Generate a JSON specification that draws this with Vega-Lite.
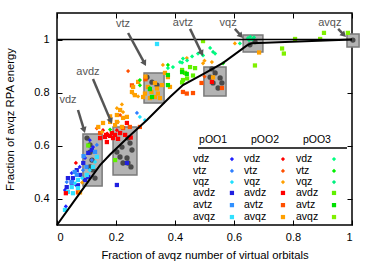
{
"$schema": "https://vega.github.io/schema/vega-lite/v6.json",
"width": 295, "height": 212,
"autosize": "none",
"padding": {"left": 57, "top": 13, "right": 22, "bottom": 37},
"config": {"font": "Liberation Sans", "view": {"stroke": "#000", "strokeWidth": 1.5}},
"encoding": {
 "x": {"field": "x", "type": "quantitative", "scale": {"domain": [0, 1], "nice": false}, "axis": null},
 "y": {"field": "y", "type": "quantitative", "scale": {"domain": [0.3, 1.1], "nice": false, "zero": false}, "axis": null}
},
"resolve": {"axis": {"x": "independent", "y": "independent"}},
"layer": [
 {
  "data": {"values": [
   {"x": 0.088, "x2": 0.153, "y": 0.447, "y2": 0.643},
   {"x": 0.19, "x2": 0.271, "y": 0.489, "y2": 0.670},
   {"x": 0.295, "x2": 0.363, "y": 0.760, "y2": 0.874},
   {"x": 0.498, "x2": 0.573, "y": 0.787, "y2": 0.896},
   {"x": 0.631, "x2": 0.698, "y": 0.953, "y2": 1.017},
   {"x": 0.983, "x2": 1.024, "y": 0.972, "y2": 1.021}
  ]},
  "mark": {"type": "rect", "fill": "#b3b3b3", "stroke": "#7a7a7a", "strokeWidth": 1.5},
  "encoding": {
   "x": {"field": "x", "type": "quantitative", "scale": {"domain": [0, 1], "nice": false},
    "axis": {"orient": "bottom", "values": [0, 0.2, 0.4, 0.6, 0.8, 1], "format": "~g", "domain": false, "grid": false,
     "tickSize": -5, "tickColor": "#000", "tickWidth": 1, "labelPadding": 11, "labelFontSize": 11, "labelColor": "#000",
     "title": "Fraction of avqz number of virtual orbitals", "titleFontSize": 11.3, "titleFontWeight": "normal", "titleColor": "#000",
     "titleY": 24, "titleBaseline": "top"}},
   "x2": {"field": "x2"},
   "y": {"field": "y", "type": "quantitative", "scale": {"domain": [0.3, 1.1], "nice": false, "zero": false},
    "axis": {"orient": "left", "values": [0.4, 0.6, 0.8, 1], "format": "~g", "domain": false, "grid": false,
     "tickSize": -5, "tickColor": "#000", "tickWidth": 1, "labelPadding": 13, "labelFontSize": 11, "labelColor": "#000",
     "title": "Fraction of avqz RPA energy", "titleFontSize": 11.3, "titleFontWeight": "normal", "titleColor": "#000",
     "titleX": -47, "titleY": 106, "titleAngle": -90, "titleAlign": "center", "titleBaseline": "middle"}},
   "y2": {"field": "y2"}
  }
 },
 {
  "data": {"values": [
   {"x": 0.1017, "y": 0.628}, {"x": 0.1119, "y": 0.602}, {"x": 0.1119, "y": 0.575}, {"x": 0.1186, "y": 0.545},
   {"x": 0.1119, "y": 0.519}, {"x": 0.122, "y": 0.508}, {"x": 0.1288, "y": 0.477},
   {"x": 0.203, "y": 0.5755}, {"x": 0.2136, "y": 0.5566}, {"x": 0.2373, "y": 0.5528}, {"x": 0.2237, "y": 0.534},
   {"x": 0.2407, "y": 0.534}, {"x": 0.2542, "y": 0.583}, {"x": 0.2475, "y": 0.609}, {"x": 0.2407, "y": 0.628},
   {"x": 0.2508, "y": 0.519}, {"x": 0.2203, "y": 0.594},
   {"x": 0.305, "y": 0.858}, {"x": 0.322, "y": 0.839}, {"x": 0.339, "y": 0.828},
   {"x": 0.525, "y": 0.889}, {"x": 0.536, "y": 0.874}, {"x": 0.553, "y": 0.855}, {"x": 0.559, "y": 0.836},
   {"x": 0.546, "y": 0.817}, {"x": 0.529, "y": 0.836}, {"x": 0.519, "y": 0.858},
   {"x": 0.6712, "y": 0.992}, {"x": 0.654, "y": 0.98}, {"x": 1.003, "y": 0.998}
  ]},
  "mark": {"type": "point", "shape": "circle", "filled": true, "color": "#4a4a4a", "size": 28, "opacity": 1}
 },
 {
  "data": {"values": [
   {"s": "1vdz", "x": 0.027, "y": 0.432}, {"s": "1vdz", "x": 0.095, "y": 0.553}, {"s": "1vdz", "x": 0.111, "y": 0.62},
   {"s": "1vdz", "x": 0.05, "y": 0.496}, {"s": "1vdz", "x": 0.077, "y": 0.519}, {"s": "1vdz", "x": 0.122, "y": 0.594},
   {"s": "1vdz", "x": 0.03, "y": 0.37}, {"s": "1vdz", "x": 0.065, "y": 0.45},
   {"s": "1avdz", "x": 0.037, "y": 0.477}, {"s": "1avdz", "x": 0.067, "y": 0.507}, {"s": "1avdz", "x": 0.089, "y": 0.534},
   {"s": "1avdz", "x": 0.106, "y": 0.572}, {"s": "1avdz", "x": 0.118, "y": 0.583}, {"s": "1avdz", "x": 0.054, "y": 0.477},
   {"s": "1avdz", "x": 0.078, "y": 0.489}, {"s": "1avdz", "x": 0.071, "y": 0.45}, {"s": "1avdz", "x": 0.095, "y": 0.47},
   {"s": "1avdz", "x": 0.106, "y": 0.481}, {"s": "1avdz", "x": 0.033, "y": 0.443}, {"s": "1avdz", "x": 0.203, "y": 0.451},
   {"s": "1avdz", "x": 0.237, "y": 0.534}, {"s": "1avdz", "x": 0.05, "y": 0.46},
   {"s": "1vtz", "x": 0.271, "y": 0.723}, {"s": "1vtz", "x": 0.033, "y": 0.462}, {"s": "1vtz", "x": 0.088, "y": 0.507},
   {"s": "1vtz", "x": 0.118, "y": 0.545}, {"s": "1vtz", "x": 0.135, "y": 0.602},
   {"s": "1avtz", "x": 0.05, "y": 0.462}, {"s": "1avtz", "x": 0.067, "y": 0.489}, {"s": "1avtz", "x": 0.1, "y": 0.519},
   {"s": "1avtz", "x": 0.129, "y": 0.576}, {"s": "1avtz", "x": 0.06, "y": 0.5}, {"s": "1avtz", "x": 0.09, "y": 0.56},
   {"s": "1vqz", "x": 0.281, "y": 0.708}, {"s": "1vqz", "x": 0.298, "y": 0.696}, {"s": "1vqz", "x": 0.061, "y": 0.458},
   {"s": "1vqz", "x": 0.085, "y": 0.477}, {"s": "1vqz", "x": 0.111, "y": 0.507}, {"s": "1vqz", "x": 0.129, "y": 0.538},
   {"s": "1avqz", "x": 0.027, "y": 0.357}, {"s": "1avqz", "x": 0.05, "y": 0.443}, {"s": "1avqz", "x": 0.071, "y": 0.47},
   {"s": "1avqz", "x": 0.101, "y": 0.489}, {"s": "1avqz", "x": 0.122, "y": 0.519}, {"s": "1avqz", "x": 0.135, "y": 0.557},
   {"s": "1avqz", "x": 0.037, "y": 0.425}, {"s": "1avqz", "x": 0.054, "y": 0.42}, {"s": "1avqz", "x": 0.071, "y": 0.439},
   {"s": "1avqz", "x": 0.339, "y": 0.983},
   {"s": "2vdz", "x": 0.064, "y": 0.534}, {"s": "2vdz", "x": 0.156, "y": 0.658}, {"s": "2vdz", "x": 0.203, "y": 0.658},
   {"s": "2vdz", "x": 0.22, "y": 0.67}, {"s": "2vdz", "x": 0.17, "y": 0.645},
   {"s": "2avdz", "x": 0.03, "y": 0.42}, {"s": "2avdz", "x": 0.146, "y": 0.628}, {"s": "2avdz", "x": 0.163, "y": 0.632},
   {"s": "2avdz", "x": 0.18, "y": 0.636}, {"s": "2avdz", "x": 0.197, "y": 0.64}, {"s": "2avdz", "x": 0.214, "y": 0.647},
   {"s": "2avdz", "x": 0.231, "y": 0.64}, {"s": "2avdz", "x": 0.169, "y": 0.613}, {"s": "2avdz", "x": 0.19, "y": 0.628},
   {"s": "2avdz", "x": 0.207, "y": 0.625}, {"s": "2avdz", "x": 0.186, "y": 0.647}, {"s": "2avdz", "x": 0.166, "y": 0.64},
   {"s": "2avdz", "x": 0.237, "y": 0.685}, {"s": "2avdz", "x": 0.525, "y": 0.84}, {"s": "2avdz", "x": 0.25, "y": 0.63},
   {"s": "2vtz", "x": 0.241, "y": 0.881}, {"s": "2vtz", "x": 0.214, "y": 0.715}, {"s": "2vtz", "x": 0.135, "y": 0.665},
   {"s": "2vtz", "x": 0.5, "y": 0.86},
   {"s": "2avtz", "x": 0.146, "y": 0.647}, {"s": "2avtz", "x": 0.224, "y": 0.666}, {"s": "2avtz", "x": 0.247, "y": 0.67},
   {"s": "2avtz", "x": 0.281, "y": 0.67}, {"s": "2avtz", "x": 0.254, "y": 0.827}, {"s": "2avtz", "x": 0.427, "y": 0.802},
   {"s": "2avtz", "x": 0.461, "y": 0.798}, {"s": "2avtz", "x": 0.44, "y": 0.796}, {"s": "2avtz", "x": 0.49, "y": 0.836},
   {"s": "2avtz", "x": 0.071, "y": 0.423}, {"s": "2avtz", "x": 0.559, "y": 0.817}, {"s": "2avtz", "x": 0.3, "y": 0.85},
   {"s": "2vqz", "x": 0.359, "y": 0.904}, {"s": "2vqz", "x": 0.275, "y": 0.785}, {"s": "2vqz", "x": 0.258, "y": 0.796},
   {"s": "2vqz", "x": 0.224, "y": 0.726}, {"s": "2vqz", "x": 0.203, "y": 0.741}, {"s": "2vqz", "x": 0.22, "y": 0.755},
   {"s": "2vqz", "x": 0.153, "y": 0.651}, {"s": "2vqz", "x": 0.207, "y": 0.689}, {"s": "2vqz", "x": 0.525, "y": 0.915},
   {"s": "2vqz", "x": 0.495, "y": 0.91}, {"s": "2vqz", "x": 0.603, "y": 0.985}, {"s": "2vqz", "x": 0.085, "y": 0.46},
   {"s": "2vqz", "x": 0.44, "y": 0.93}, {"s": "2vqz", "x": 0.5, "y": 0.92},
   {"s": "2avqz", "x": 0.308, "y": 0.821}, {"s": "2avqz", "x": 0.32, "y": 0.802}, {"s": "2avqz", "x": 0.332, "y": 0.783},
   {"s": "2avqz", "x": 0.339, "y": 0.815}, {"s": "2avqz", "x": 0.342, "y": 0.796}, {"s": "2avqz", "x": 0.349, "y": 0.779},
   {"s": "2avqz", "x": 0.315, "y": 0.779}, {"s": "2avqz", "x": 0.332, "y": 0.836}, {"s": "2avqz", "x": 0.356, "y": 0.828},
   {"s": "2avqz", "x": 0.298, "y": 0.796}, {"s": "2avqz", "x": 0.203, "y": 0.715}, {"s": "2avqz", "x": 0.224, "y": 0.704},
   {"s": "2avqz", "x": 0.197, "y": 0.677}, {"s": "2avqz", "x": 0.22, "y": 0.67}, {"s": "2avqz", "x": 0.237, "y": 0.708},
   {"s": "2avqz", "x": 0.214, "y": 0.734}, {"s": "2avqz", "x": 0.156, "y": 0.685}, {"s": "2avqz", "x": 0.18, "y": 0.689},
   {"s": "2avqz", "x": 0.203, "y": 0.689}, {"s": "2avqz", "x": 0.078, "y": 0.423}, {"s": "2avqz", "x": 0.376, "y": 0.858},
   {"s": "2avqz", "x": 0.383, "y": 0.821}, {"s": "2avqz", "x": 0.529, "y": 0.857}, {"s": "2avqz", "x": 0.685, "y": 0.951},
   {"s": "2avqz", "x": 0.254, "y": 0.802}, {"s": "2avqz", "x": 0.264, "y": 0.79}, {"s": "2avqz", "x": 0.258, "y": 0.821},
   {"s": "2avqz", "x": 0.275, "y": 0.84}, {"s": "2avqz", "x": 0.292, "y": 0.783}, {"s": "2avqz", "x": 0.366, "y": 0.874},
   {"s": "2avqz", "x": 0.18, "y": 0.71}, {"s": "2avqz", "x": 0.14, "y": 0.67}, {"s": "2avqz", "x": 0.3, "y": 0.86},
   {"s": "3vdz", "x": 0.519, "y": 0.968}, {"s": "3vdz", "x": 0.536, "y": 0.947}, {"s": "3vdz", "x": 0.495, "y": 0.94},
   {"s": "3vdz", "x": 0.478, "y": 0.947}, {"s": "3vdz", "x": 0.458, "y": 0.936}, {"s": "3vdz", "x": 0.441, "y": 0.921},
   {"s": "3vdz", "x": 0.424, "y": 0.913}, {"s": "3vdz", "x": 0.62, "y": 0.985}, {"s": "3vdz", "x": 0.417, "y": 0.915},
   {"s": "3vdz", "x": 0.427, "y": 0.928}, {"s": "3vdz", "x": 0.393, "y": 0.896}, {"s": "3vdz", "x": 0.376, "y": 0.892},
   {"s": "3vqz", "x": 0.647, "y": 1.005}, {"s": "3vqz", "x": 0.655, "y": 1.01}, {"s": "3vqz", "x": 0.662, "y": 1.0},
   {"s": "3vqz", "x": 0.668, "y": 1.008}, {"s": "3vqz", "x": 0.651, "y": 0.998}, {"s": "3vqz", "x": 0.529, "y": 0.953},
   {"s": "3vtz", "x": 0.281, "y": 0.847}, {"s": "3vtz", "x": 0.281, "y": 0.827}, {"s": "3vtz", "x": 0.376, "y": 0.904},
   {"s": "3vtz", "x": 0.18, "y": 0.66}, {"s": "3vtz", "x": 0.315, "y": 0.817}, {"s": "3vtz", "x": 0.563, "y": 0.91},
   {"s": "3avdz", "x": 0.424, "y": 0.885}, {"s": "3avdz", "x": 0.434, "y": 0.874}, {"s": "3avdz", "x": 0.427, "y": 0.847},
   {"s": "3avdz", "x": 0.451, "y": 0.896}, {"s": "3avdz", "x": 0.468, "y": 0.892}, {"s": "3avdz", "x": 0.461, "y": 0.864},
   {"s": "3avdz", "x": 0.441, "y": 0.853}, {"s": "3avdz", "x": 0.424, "y": 0.838}, {"s": "3avdz", "x": 0.106, "y": 0.6},
   {"s": "3avdz", "x": 0.197, "y": 0.545},
   {"s": "3avtz", "x": 0.424, "y": 0.877}, {"s": "3avtz", "x": 0.376, "y": 0.866}, {"s": "3avtz", "x": 0.376, "y": 0.828},
   {"s": "3avtz", "x": 0.315, "y": 0.813}, {"s": "3avtz", "x": 0.322, "y": 0.783}, {"s": "3avtz", "x": 0.44, "y": 0.87},
   {"s": "3avqz", "x": 0.763, "y": 0.966}, {"s": "3avqz", "x": 0.769, "y": 0.947}, {"s": "3avqz", "x": 0.671, "y": 0.902},
   {"s": "3avqz", "x": 0.807, "y": 1.002}, {"s": "3avqz", "x": 0.892, "y": 1.002}, {"s": "3avqz", "x": 0.905, "y": 1.025},
   {"s": "3avqz", "x": 0.986, "y": 1.025}, {"s": "3avqz", "x": 0.495, "y": 0.994}
  ]},
  "mark": {"type": "point", "filled": true, "size": 18, "opacity": 1},
  "encoding": {
   "color": {"field": "s", "type": "nominal", "legend": null,
    "scale": {"domain": ["1vdz","1vtz","1vqz","1avdz","1avtz","1avqz","2vdz","2vtz","2vqz","2avdz","2avtz","2avqz","3vdz","3vtz","3vqz","3avdz","3avtz","3avqz"],
     "range": ["#2020ff","#3080ff","#20e0ff","#2020e0","#3090ff","#30e0ff","#ff0000","#ff5000","#ffa000","#ff0000","#ff5000","#ffa000","#00ff80","#00f000","#00f080","#60f000","#00e000","#80f000"]}},
   "shape": {"field": "s", "type": "nominal", "legend": null,
    "scale": {"domain": ["1vdz","1vtz","1vqz","1avdz","1avtz","1avqz","2vdz","2vtz","2vqz","2avdz","2avtz","2avqz","3vdz","3vtz","3vqz","3avdz","3avtz","3avqz"],
     "range": ["diamond","diamond","diamond","square","square","square","diamond","diamond","diamond","square","square","square","diamond","diamond","diamond","square","square","square"]}}
  }
 },
 {
  "data": {"values": [
   {"x": 0, "y": 0.3}, {"x": 0.05, "y": 0.378}, {"x": 0.1, "y": 0.455}, {"x": 0.146, "y": 0.526}, {"x": 0.18, "y": 0.566},
   {"x": 0.24, "y": 0.63}, {"x": 0.305, "y": 0.696}, {"x": 0.383, "y": 0.783}, {"x": 0.427, "y": 0.828}, {"x": 0.5, "y": 0.872},
   {"x": 0.563, "y": 0.912}, {"x": 0.644, "y": 0.978}, {"x": 0.66, "y": 0.986}, {"x": 1.0, "y": 1.0}
  ]},
  "mark": {"type": "line", "color": "#000", "strokeWidth": 2},
  "encoding": {
   "x": {"field": "x", "type": "quantitative",
    "axis": {"orient": "top", "values": [0, 0.2, 0.4, 0.6, 0.8, 1], "labels": false, "domain": false, "grid": false,
     "tickSize": -5, "tickColor": "#000", "tickWidth": 1, "title": null}},
   "y": {"field": "y", "type": "quantitative",
    "axis": {"orient": "right", "values": [0.4, 0.6, 0.8, 1], "labels": false, "domain": false, "grid": false,
     "tickSize": -5, "tickColor": "#000", "tickWidth": 1, "title": null}}
  }
 },
 {
  "data": {"values": [{"x": 0, "x2": 1, "y": 1}]},
  "mark": {"type": "rule", "color": "#000", "strokeWidth": 1.5},
  "encoding": {"x2": {"field": "x2"}}
 },
 {
  "data": {"values": [
   {"t": "vdz", "tx": 0.0373, "ty": 0.772, "x": 0.0712, "y": 0.734, "x2": 0.0919, "y2": 0.658, "a": 163},
   {"t": "avdz", "tx": 0.105, "ty": 0.877, "x": 0.122, "y": 0.851, "x2": 0.1824, "y2": 0.692, "a": 157},
   {"t": "vtz", "tx": 0.2237, "ty": 1.058, "x": 0.241, "y": 1.0245, "x2": 0.297, "y2": 0.910, "a": 151},
   {"t": "avtz", "tx": 0.427, "ty": 1.062, "x": 0.451, "y": 1.04, "x2": 0.4905, "y2": 0.948, "a": 154},
   {"t": "vqz", "tx": 0.58, "ty": 1.062, "x": 0.603, "y": 1.04, "x2": 0.6237, "y2": 1.014, "a": 138},
   {"t": "avqz", "tx": 0.925, "ty": 1.062, "x": 0.953, "y": 1.04, "x2": 0.9725, "y2": 1.0174, "a": 135}
  ]},
  "layer": [
   {"mark": {"type": "rule", "color": "#555", "strokeWidth": 2.5},
    "encoding": {"x2": {"field": "x2"}, "y2": {"field": "y2"}}},
   {"mark": {"type": "point", "shape": "triangle-up", "filled": true, "color": "#555", "size": 45, "opacity": 1},
    "encoding": {"x": {"field": "x2", "type": "quantitative", "axis": null}, "y": {"field": "y2", "type": "quantitative", "axis": null},
     "angle": {"field": "a", "type": "quantitative", "scale": null}}},
   {"mark": {"type": "text", "color": "#555", "fontSize": 11, "baseline": "middle", "align": "center"},
    "encoding": {"x": {"field": "tx", "type": "quantitative", "axis": null}, "y": {"field": "ty", "type": "quantitative", "axis": null},
     "text": {"field": "t"}}}
  ]
 },
 {
  "data": {"values": [
   {"t": "pOO1", "x": 0.529, "y": 0.621}, {"t": "pOO2", "x": 0.705, "y": 0.621}, {"t": "pOO3", "x": 0.881, "y": 0.621}
  ]},
  "mark": {"type": "text", "color": "#000", "fontSize": 10.5, "baseline": "middle", "align": "center"},
  "encoding": {"text": {"field": "t"}}
 },
 {
  "data": {"values": [{"x": 0.478, "x2": 0.983, "y": 0.591}]},
  "mark": {"type": "rule", "color": "#000", "strokeWidth": 1.5},
  "encoding": {"x2": {"field": "x2"}}
 },
 {
  "data": {"values": [
   {"s": "1vdz", "b": "vdz", "lx": 0.461, "sx": 0.593, "y": 0.549},
   {"s": "1vtz", "b": "vtz", "lx": 0.461, "sx": 0.593, "y": 0.504},
   {"s": "1vqz", "b": "vqz", "lx": 0.461, "sx": 0.593, "y": 0.462},
   {"s": "1avdz", "b": "avdz", "lx": 0.461, "sx": 0.593, "y": 0.421},
   {"s": "1avtz", "b": "avtz", "lx": 0.461, "sx": 0.593, "y": 0.375},
   {"s": "1avqz", "b": "avqz", "lx": 0.461, "sx": 0.593, "y": 0.330},
   {"s": "2vdz", "b": "vdz", "lx": 0.634, "sx": 0.766, "y": 0.549},
   {"s": "2vtz", "b": "vtz", "lx": 0.634, "sx": 0.766, "y": 0.504},
   {"s": "2vqz", "b": "vqz", "lx": 0.634, "sx": 0.766, "y": 0.462},
   {"s": "2avdz", "b": "avdz", "lx": 0.634, "sx": 0.766, "y": 0.421},
   {"s": "2avtz", "b": "avtz", "lx": 0.634, "sx": 0.766, "y": 0.375},
   {"s": "2avqz", "b": "avqz", "lx": 0.634, "sx": 0.766, "y": 0.330},
   {"s": "3vdz", "b": "vdz", "lx": 0.810, "sx": 0.939, "y": 0.549},
   {"s": "3vtz", "b": "vtz", "lx": 0.810, "sx": 0.939, "y": 0.504},
   {"s": "3vqz", "b": "vqz", "lx": 0.810, "sx": 0.939, "y": 0.462},
   {"s": "3avdz", "b": "avdz", "lx": 0.810, "sx": 0.939, "y": 0.421},
   {"s": "3avtz", "b": "avtz", "lx": 0.810, "sx": 0.939, "y": 0.375},
   {"s": "3avqz", "b": "avqz", "lx": 0.810, "sx": 0.939, "y": 0.330}
  ]},
  "layer": [
   {"mark": {"type": "text", "color": "#000", "fontSize": 10.5, "baseline": "middle", "align": "left"},
    "encoding": {"x": {"field": "lx", "type": "quantitative", "axis": null}, "text": {"field": "b"}}},
   {"mark": {"type": "point", "filled": true, "size": 18, "opacity": 1},
    "encoding": {"x": {"field": "sx", "type": "quantitative", "axis": null},
     "color": {"field": "s", "type": "nominal", "legend": null},
     "shape": {"field": "s", "type": "nominal", "legend": null}}}
  ]
 }
]
}
